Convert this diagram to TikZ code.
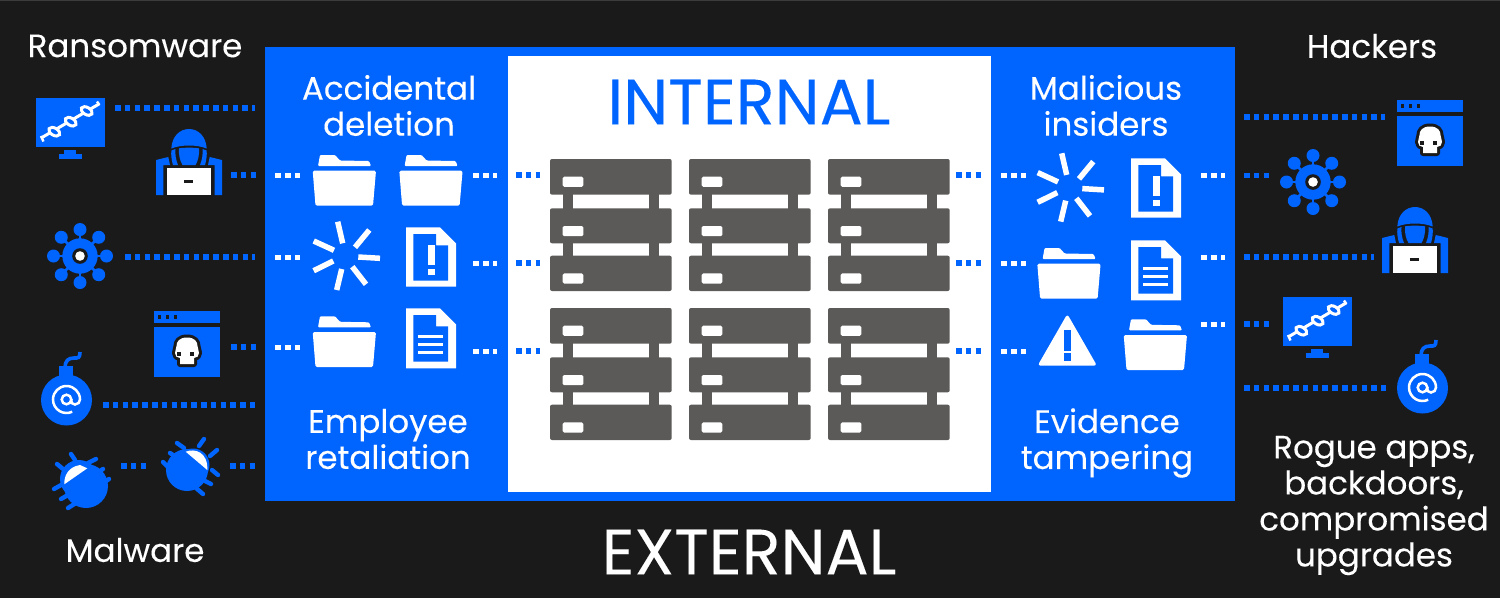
\documentclass[tikz,border=0pt]{standalone}
\usepackage{fontspec}
\setmainfont[FakeBold=0.12]{Poppins}
\definecolor{bgdark}{HTML}{1A1A1A}
\definecolor{bgedge}{HTML}{3C3C3C}
\definecolor{kblue}{HTML}{0064FF}
\definecolor{srv}{HTML}{5B5A59}
\tikzset{
  dotblue/.style={draw=kblue,line width=5.6,dash pattern=on 5.6 off 4.2},
  dotwhite/.style={draw=white,line width=5,dash pattern=on 6 off 3.9},
  lab/.style={text=white,align=center,inner sep=0,font=\fontsize{32.5}{36}\selectfont},
  big/.style={inner sep=0,font=\fontsize{64}{64}\selectfont},
  icofolder/.pic={
    \fill[white,rounded corners=1] (318,166) -- (320,155) -- (335,155) -- (340,160.5) -- (369,161) -- (371,166) -- cycle;
    \fill[white,rounded corners=1.5] (312.7,170.7) -- (376,170.7) -- (373,205.7) -- (315.5,205.7) -- cycle;
  },
  icoburst/.pic={
    \foreach \ax/\ay/\bx/\by in {337.7/221.7/342.7/243.3,369.3/230/355/247.3,380/258.3/358.3/257,366/284.3/352.3/266.7,336.7/290/341.7/269,313.7/270.7/333.3/261,313.7/241/334/250.3}
      \draw[white,line width=5.5] (\ax,\ay) -- (\bx,\by);
  },
  icoalert/.pic={
    \fill[white] (406,227.3) -- (440,227.3) -- (456,243.3) -- (456,286.7) -- (406,286.7) -- cycle;
    \fill[kblue] (413.3,234) -- (436,234) -- (436,245.3) -- (448,245.3) -- (448,280.7) -- (413.3,280.7) -- cycle;
    \fill[white] (428,245.3) rectangle (434.8,264.7);
    \fill[white] (428,269) rectangle (434.8,275);
  },
  icodoc/.pic={
    \fill[white] (406,308.3) -- (440,308.3) -- (456,324.3) -- (456,368.3) -- (406,368.3) -- cycle;
    \fill[kblue] (413.3,315) -- (436,315) -- (436,326.3) -- (448,326.3) -- (448,361.7) -- (413.3,361.7) -- cycle;
    \foreach \y in {336.7,344.7,352.7}
      \fill[white] (417.7,\y-1.3) rectangle (443.3,\y+1.3);
  },
  icowarn/.pic={
    \fill[white,rounded corners=3] (1067.3,314) -- (1097,365.7) -- (1037.6,365.7) -- cycle;
    \fill[kblue] (1063.5,330) rectangle (1071,350.7);
    \fill[kblue] (1063.5,353.3) rectangle (1071,360.7);
  },
  icoserver/.pic={
    \fill[srv] (562.7,190) rectangle (572.7,260);
    \fill[srv] (649,190) rectangle (659.3,260);
    \fill[srv,rounded corners=2] (550,159) rectangle (671.7,194.7);
    \fill[srv,rounded corners=2] (550,208.3) rectangle (671.7,243.3);
    \fill[srv,rounded corners=2] (550,255.7) rectangle (671.7,291);
    \foreach \y in {176.7,226,273.3}
      \fill[white,rounded corners=1.5] (562.7,\y) rectangle (583.3,\y+10.2);
  },
  icomonitor/.pic={
    \fill[kblue] (36,98) rectangle (105,146.7);
    \fill[kblue] (64,150) rectangle (76,155);
    \fill[kblue] (59,154) rectangle (82,159);
    \draw[white,line width=3] (42,137.5) -- (99,104);
    \draw[white,line width=2.4] (41,136) -- (43.5,141.5);
    \draw[white,line width=2.4] (97,101.5) -- (99.5,105);
    \foreach \cx/\cy in {54.3/131.7,70.7/121.7,86.7/111}
      \draw[white,line width=3,fill=kblue,rotate around={-30:(\cx,\cy)}] (\cx,\cy) ellipse [x radius=6,y radius=3.6];
  },
  icohacker/.pic={
    \fill[kblue] (171.3,148.5) .. controls (172,136) and (180,129) .. (189,129) .. controls (198,129) and (206,136) .. (206.7,148.5) .. controls (197,144.5) and (181,144.5) .. cycle;
    \fill[kblue] (171.3,150.5) .. controls (172.5,150) and (174,149.5) .. (175.5,149) .. controls (175,155) and (176,160) .. (178,165) -- (173,165) .. controls (171.5,160) and (171,155) .. cycle;
    \fill[kblue] (206.7,150.5) .. controls (205.5,150) and (204,149.5) .. (202.5,149) .. controls (203,155) and (202,160) .. (200,165) -- (205,165) .. controls (206.5,160) and (207,155) .. cycle;
    \fill[kblue] (179,148.3) .. controls (185,147.4) and (193,147.4) .. (199,148.3) .. controls (199.5,155) and (198,161) .. (195.5,165) -- (182.5,165) .. controls (180,161) and (178.5,155) .. cycle;
    \fill[kblue] (156,160) -- (168.3,157) -- (170,165) -- (163.3,165) -- (163.3,195) -- (156,195) -- cycle;
    \fill[kblue] (222,160) -- (209.7,157) -- (208,165) -- (214.7,165) -- (214.7,195) -- (222,195) -- cycle;
    \fill[white] (166.7,168.3) rectangle (211,195);
    \fill[bgdark] (184.3,180) rectangle (193.3,183.3);
  },
  icovirus/.pic={
    \foreach \a in {0,45,...,315} {
      \draw[kblue,line width=2.6] (80,256) -- ++(\a:26);
      \fill[kblue] (80,256) ++(\a:26.5) circle [radius=6.5];
    }
    \fill[kblue] (80,256) circle [radius=17.7];
    \fill[bgdark] (80,256) circle [radius=7.8];
    \fill[white] (80,256) circle [radius=4.8];
  },
  icoskull/.pic={
    \fill[kblue] (153.5,311) rectangle (220,323);
    \fill[kblue] (153.5,326.5) rectangle (220,377);
    \foreach \x in {159.5,167.5,175.5}
      \fill[bgdark] (\x-1.7,315.3) rectangle (\x+1.7,318.7);
    \draw[bgdark,line width=6,line join=round,fill=bgdark] (187,337.5) .. controls (179,337.5) and (176.5,342) .. (176.5,346) .. controls (176.5,348.5) and (175,350) .. (175,353) .. controls (175,356) and (177,358) .. (180,358) -- (180,364) -- (194,364) -- (194,358) .. controls (197,358) and (199,356) .. (199,353) .. controls (199,350) and (197.5,348.5) .. (197.5,346) .. controls (197.5,342) and (195,337.5) .. (187,337.5) -- cycle;
    \fill[white] (187,337.5) .. controls (179,337.5) and (176.5,342) .. (176.5,346) .. controls (176.5,348.5) and (175,350) .. (175,353) .. controls (175,356) and (177,358) .. (180,358) -- (180,364) -- (194,364) -- (194,358) .. controls (197,358) and (199,356) .. (199,353) .. controls (199,350) and (197.5,348.5) .. (197.5,346) .. controls (197.5,342) and (195,337.5) .. (187,337.5) -- cycle;
    \fill[bgdark] (176.8,352) rectangle (180.6,356);
    \fill[bgdark] (190.4,352) rectangle (194.2,356);
  },
  icobomb/.pic={
    \draw[kblue,line width=3.6] (65,368) .. controls (65,361) and (68,358) .. (74,358) .. controls (78,358) and (80,358.5) .. (80,352);
    \fill[kblue] (59,366) rectangle (73,380);
    \fill[kblue] (66.5,400) circle [radius=25.5];
    \draw[white,line width=2.5] (66.5,399.5) circle [radius=4.8];
    \draw[white,line width=2.5] (71.3,399) .. controls (71.3,403) and (72,404.5) .. (75,404.5) .. controls (78,404.5) and (80,402) .. (80,399.5) arc [start angle=0,end angle=-295,radius=13.5];
  },
  icobugone/.pic={
    \foreach \ax/\ay/\bx/\by in {71/454/75/460,57/464/63/469,54/489/63/484,61/499/68/495,68/508/76/503,88/463/96/459,97/473/103/469,102/484/109/479}
      \draw[kblue,line width=4.4,line cap=round] (\ax,\ay) -- (\bx,\by);
    \fill[kblue] (86,486) circle [radius=22];
    \fill[kblue] (79,479) circle [radius=19];
    \fill[white] (64.3,484.3) .. controls (64,476) and (68,467) .. (80,465) -- (87.3,468.3) -- cycle;
  },
  icobugtwo/.pic={
    \foreach \ax/\ay/\bx/\by in {177/443/184/448,170/453/176/457,163/462/169/468,204/439/199/446,217/450/210/456,218/475/212/470,211/484/205/481,203/494/196/488}
      \draw[kblue,line width=4.4,line cap=round] (\ax,\ay) -- (\bx,\by);
    \fill[kblue] (187,470) circle [radius=21];
    \fill[kblue] (193,465) circle [radius=16.5];
    \fill[white] (185.7,451.7) .. controls (195,448) and (208,452) .. (207.3,470) -- cycle;
  },
}
\begin{document}
\begin{tikzpicture}[x=1pt,y=-1pt]
\useasboundingbox (0,0) rectangle (1500,598);
\fill[bgdark] (0,0) rectangle (1500,598);
\fill[bgedge] (0,0) rectangle (1500,1);
\fill[kblue] (265,47) rectangle (1235,501);
\fill[white] (508,56) rectangle (991,492);
% servers
\foreach \dx in {0,139,278} \foreach \dy in {0,149} \pic at (\dx,\dy) {icoserver};
% panel icons
\pic at (0,0) {icofolder};
\pic at (86.6,0) {icofolder};
\pic at (0,0) {icoburst};
\pic at (0,0) {icoalert};
\pic at (0,161.3) {icofolder};
\pic at (0,0) {icodoc};
\pic at (724,-68.4) {icoburst};
\pic at (725,-69) {icoalert};
\pic at (724.6,93) {icofolder};
\pic at (725,-68) {icodoc};
\pic at (0,0) {icowarn};
\pic at (811,164.3) {icofolder};
% external icons
\pic at (0,0) {icomonitor};
\pic at (1247,199) {icomonitor};
\pic at (0,0) {icohacker};
\pic at (1226,78) {icohacker};
\pic at (0,0) {icovirus};
\pic at (1233,-74) {icovirus};
\pic at (0,0) {icoskull};
\pic at (1243,-211) {icoskull};
\pic at (0,0) {icobomb};
\pic at (1356,-12) {icobomb};
\pic at (0,0) {icobugone};
\pic at (0,0) {icobugtwo};
% connector ends
\foreach \n/\ax/\ay/\bx in {
 a/115/108/255,b/231/175/256,c/125/257/255,d/231/347/256,e/103/405/255,f/121/466/147,g/230/466/255,
 h/516/175/540,i/516/263/540,j/516/351/540,k/956/175/981,l/956/263/981,m/956/351/981,
 n/1244/117/1385,o/1244/175.5/1270,p/1244/257/1374,q/1244/324/1270,r/1244/388/1386}{
  \coordinate (\n1) at (\ax,\ay);
  \coordinate (\n2) at (\bx,\ay);
  \draw[dotblue] (\n1) -- (\n2);
}
\foreach \n/\ax/\ay/\bx in {
 s/275/175/300,t/275/257/300,u/275/347/300,v/473/175/497,w/473/263/497,x/473/351/497,
 y/1001/175/1026,z/1001/263/1026,aa/1001/351/1026,ab/1201/175/1225,ac/1201/257/1225,ad/1201/324/1225}{
  \coordinate (\n1) at (\ax,\ay);
  \coordinate (\n2) at (\bx,\ay);
  \draw[dotwhite] (\n1) -- (\n2);
}
% labels
\node[lab] (ransom) at (135,46) {Ransomware};
\node[lab] (hack) at (1372,46) {Hackers};
\node[lab] (acc) at (389,105.5) {Accidental\\deletion};
\node[lab] (mal) at (1106,105.5) {Malicious\\insiders};
\node[lab] (emp) at (388,439) {Employee\\retaliation};
\node[lab] (evi) at (1107,443) {Evidence\\tampering};
\node[lab] (malw) at (135,550) {Malware};
\node[lab] (rogue) at (1374,505.5) {Rogue apps,\\backdoors,\\compromised\\upgrades};
\node[big,text=kblue] (int) at (749,102) {INTERNAL};
\node[big,text=white] (ext) at (749,552) {EXTERNAL};
\end{tikzpicture}
\end{document}
